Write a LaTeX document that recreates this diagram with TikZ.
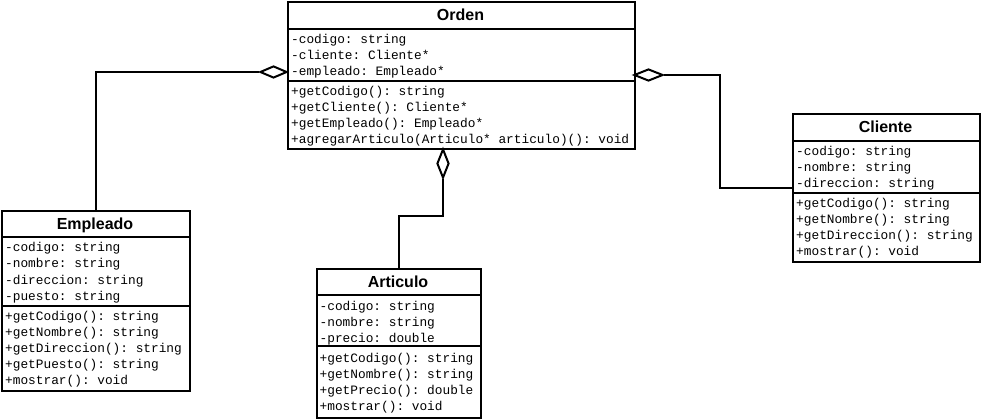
\documentclass[tikz,border=0pt]{standalone}
\usepackage{fontspec}
\setmainfont{Liberation Sans}
\setmonofont{Liberation Mono}
\usetikzlibrary{shapes.geometric}
\tikzset{
  x=1pt, y=-1pt,
  umlline/.style={line width=2pt, black},
  classbox/.style={draw, umlline, fill=white, rectangle, inner sep=0pt, anchor=north west},
  titletext/.style={inner sep=0pt, anchor=base, font=\fontsize{16}{18}\selectfont\bfseries},
  membertext/.style={inner sep=0pt, anchor=base west, font=\ttfamily\fontsize{12.8}{16}\selectfont},
  aggdiamond/.style={draw, umlline, fill=white, diamond, inner sep=0pt},
}
\newcommand\umlrows[4]{%
  \foreach \t [count=\i] in {#4} {\node[membertext] (#1\i) at (#2, {#3+16*(\i-1)}) {\t};}%
}
\begin{document}
\begin{tikzpicture}
\useasboundingbox[fill=white] (0,0) rectangle (981,419);

% ---------- Orden ----------
\node[classbox, minimum width=347pt, minimum height=147pt] (orden) at (287,1) {};
\draw[umlline] (287,29) -- (634,29);
\draw[umlline] (287,81) -- (634,81);
\node[titletext] (ordenT) at (460.5,21) {Orden};
\umlrows{ordenA}{291}{44}{-codigo: string,-cliente: Cliente*,-empleado: Empleado*}
\umlrows{ordenM}{291}{96}{+getCodigo(): string,+getCliente(): Cliente*,+getEmpleado(): Empleado*,+agregarArticulo(Articulo* articulo)(): void}

% ---------- Cliente ----------
\node[classbox, minimum width=187pt, minimum height=148pt] (cliente) at (792,113) {};
\draw[umlline] (792,141) -- (979,141);
\draw[umlline] (792,193) -- (979,193);
\node[titletext] (clienteT) at (885.5,133) {Cliente};
\umlrows{clienteA}{796}{156}{-codigo: string,-nombre: string,-direccion: string}
\umlrows{clienteM}{796}{208}{+getCodigo(): string,+getNombre(): string,+getDireccion(): string,+mostrar(): void}

% ---------- Empleado ----------
\node[classbox, minimum width=188pt, minimum height=180pt] (empleado) at (1,210) {};
\draw[umlline] (1,237) -- (189,237);
\draw[umlline] (1,306) -- (189,306);
\node[titletext] (empleadoT) at (95,229.5) {Empleado};
\umlrows{empleadoA}{5}{252}{-codigo: string,-nombre: string,-direccion: string,-puesto: string}
\umlrows{empleadoM}{5}{320.5}{+getCodigo(): string,+getNombre(): string,+getDireccion(): string,+getPuesto(): string,+mostrar(): void}

% ---------- Articulo ----------
\node[classbox, minimum width=164pt, minimum height=149pt] (articulo) at (316,268) {};
\draw[umlline] (316,295) -- (480,295);
\draw[umlline] (316,346) -- (480,346);
\node[titletext] (articuloT) at (398,287.5) {Articulo};
\umlrows{articuloA}{319.5}{310}{-codigo: string,-nombre: string,-precio: double}
\umlrows{articuloM}{319.5}{362}{+getCodigo(): string,+getNombre(): string,+getPrecio(): double,+mostrar(): void}

% ---------- aggregations ----------
\node[aggdiamond, minimum width=27pt, minimum height=12pt] (dE) at (273.5,72) {};
\node[aggdiamond, minimum width=29pt, minimum height=12pt] (dC) at (648.5,75) {};
\node[aggdiamond, minimum width=12pt, minimum height=29pt] (dA) at (443,163.5) {};

\coordinate (cBend) at (720,75);
\coordinate (aBend) at (443,216);

\draw[umlline] (dE.west) -| (empleado.north);
\draw[umlline] (dC.east) -- (cBend) |- (cliente.west);
\draw[umlline] (dA.south) -- (aBend) -| (articulo.north);
\end{tikzpicture}
\end{document}
